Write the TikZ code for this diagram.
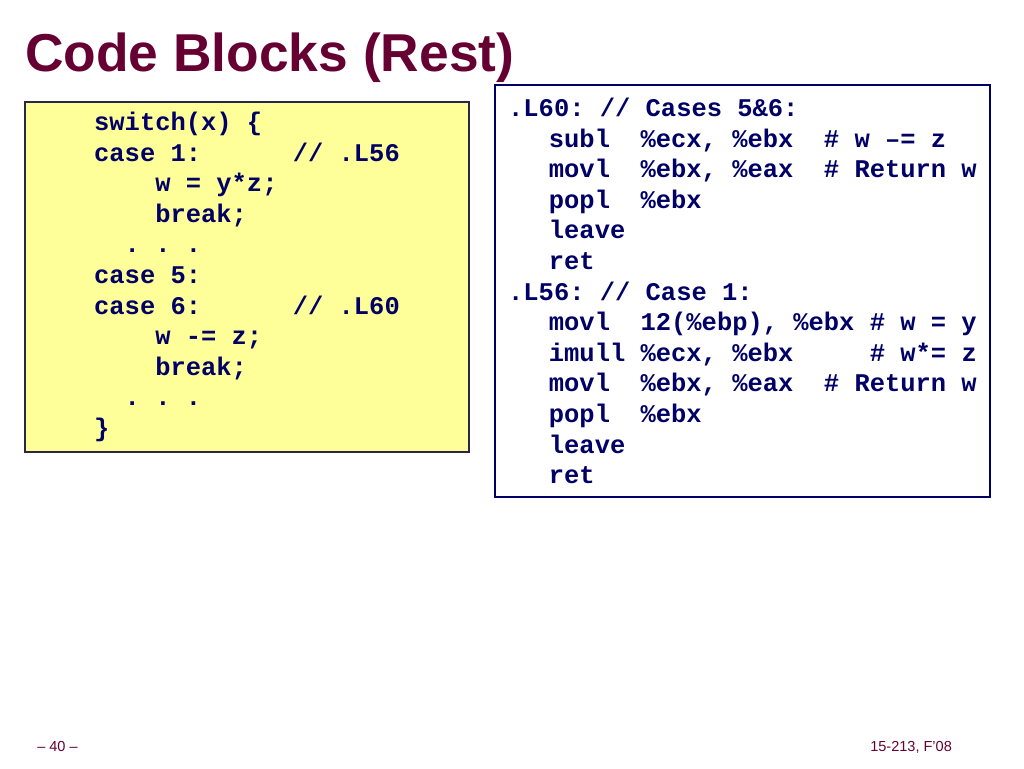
\documentclass[tikz,border=0pt]{standalone}
\usepackage{fontspec}
\setmainfont{Liberation Sans}
\newfontfamily\codefont{Liberation Mono}
\usepackage{xcolor}
\usepackage{tikz}
\usetikzlibrary{positioning}

\definecolor{slidetitle}{RGB}{102,0,51}
\definecolor{codeblue}{RGB}{0,0,102}
\definecolor{codeyellow}{RGB}{255,255,153}
\definecolor{boxedge}{RGB}{40,40,70}
\newcommand{\codeind}[1]{\hspace*{#1em}}

\begin{document}
\begin{tikzpicture}[
  x=0.75pt, y=-0.75pt,
  title/.style={anchor=base west, inner sep=0pt, text=slidetitle,
                font=\fontsize{40}{48}\selectfont\bfseries},
  codebox/.style={draw, inner sep=0pt, align=left, text=codeblue,
                  line width=1.1pt,
                  font=\codefont\bfseries\fontsize{19.1}{22.95}\selectfont},
  foot/.style={anchor=base west, inner sep=0pt, text=slidetitle,
               font=\fontsize{10.9}{13}\selectfont},
]
\useasboundingbox[fill=white] (0,0) rectangle (1024,768);

% === Slide title ===
\node[title] (slidetitle) at (25,71) {Code Blocks (Rest)};

% === C source: switch cases ===
\node[codebox, fill=codeyellow, draw=boxedge, minimum width=333pt,
      minimum height=262.5pt] (csrc) at (247,277)
  {switch(x)~\{\\
   case~1:~~~~~~//~.L56\\
   \codeind{2.4}w~=~y*z;\\
   \codeind{2.4}break;\\
   \codeind{1.2}.~.~.\\
   case~5:\\
   case~6:~~~~~~//~.L60\\
   \codeind{2.4}w~-=~z;\\
   \codeind{2.4}break;\\
   \codeind{1.2}.~.~.\\
   \}};

% === Assembly for the two targets ===
\node[codebox, fill=white, draw=codeblue, minimum width=371.25pt,
      minimum height=309pt] (asm) at (742.5,291)
  {.L60:~//~Cases~5\&6:\\
   \codeind{1.6}subl~~\%ecx,~\%ebx~~\#~w~–=~z\\
   \codeind{1.6}movl~~\%ebx,~\%eax~~\#~Return~w\\
   \codeind{1.6}popl~~\%ebx\\
   \codeind{1.6}leave\\
   \codeind{1.6}ret\\
   .L56:~//~Case~1:\\
   \codeind{1.6}movl~~12(\%ebp),~\%ebx~\#~w~=~y\\
   \codeind{1.6}imull~\%ecx,~\%ebx~~~~~\#~w*=~z\\
   \codeind{1.6}movl~~\%ebx,~\%eax~~\#~Return~w\\
   \codeind{1.6}popl~~\%ebx\\
   \codeind{1.6}leave\\
   \codeind{1.6}ret};

% === Footer ===
\node[foot] (pageno) at (37,751) {– 40 –};
\node[foot] (course) at (870,751) {15-213, F’08};

\end{tikzpicture}
\end{document}
